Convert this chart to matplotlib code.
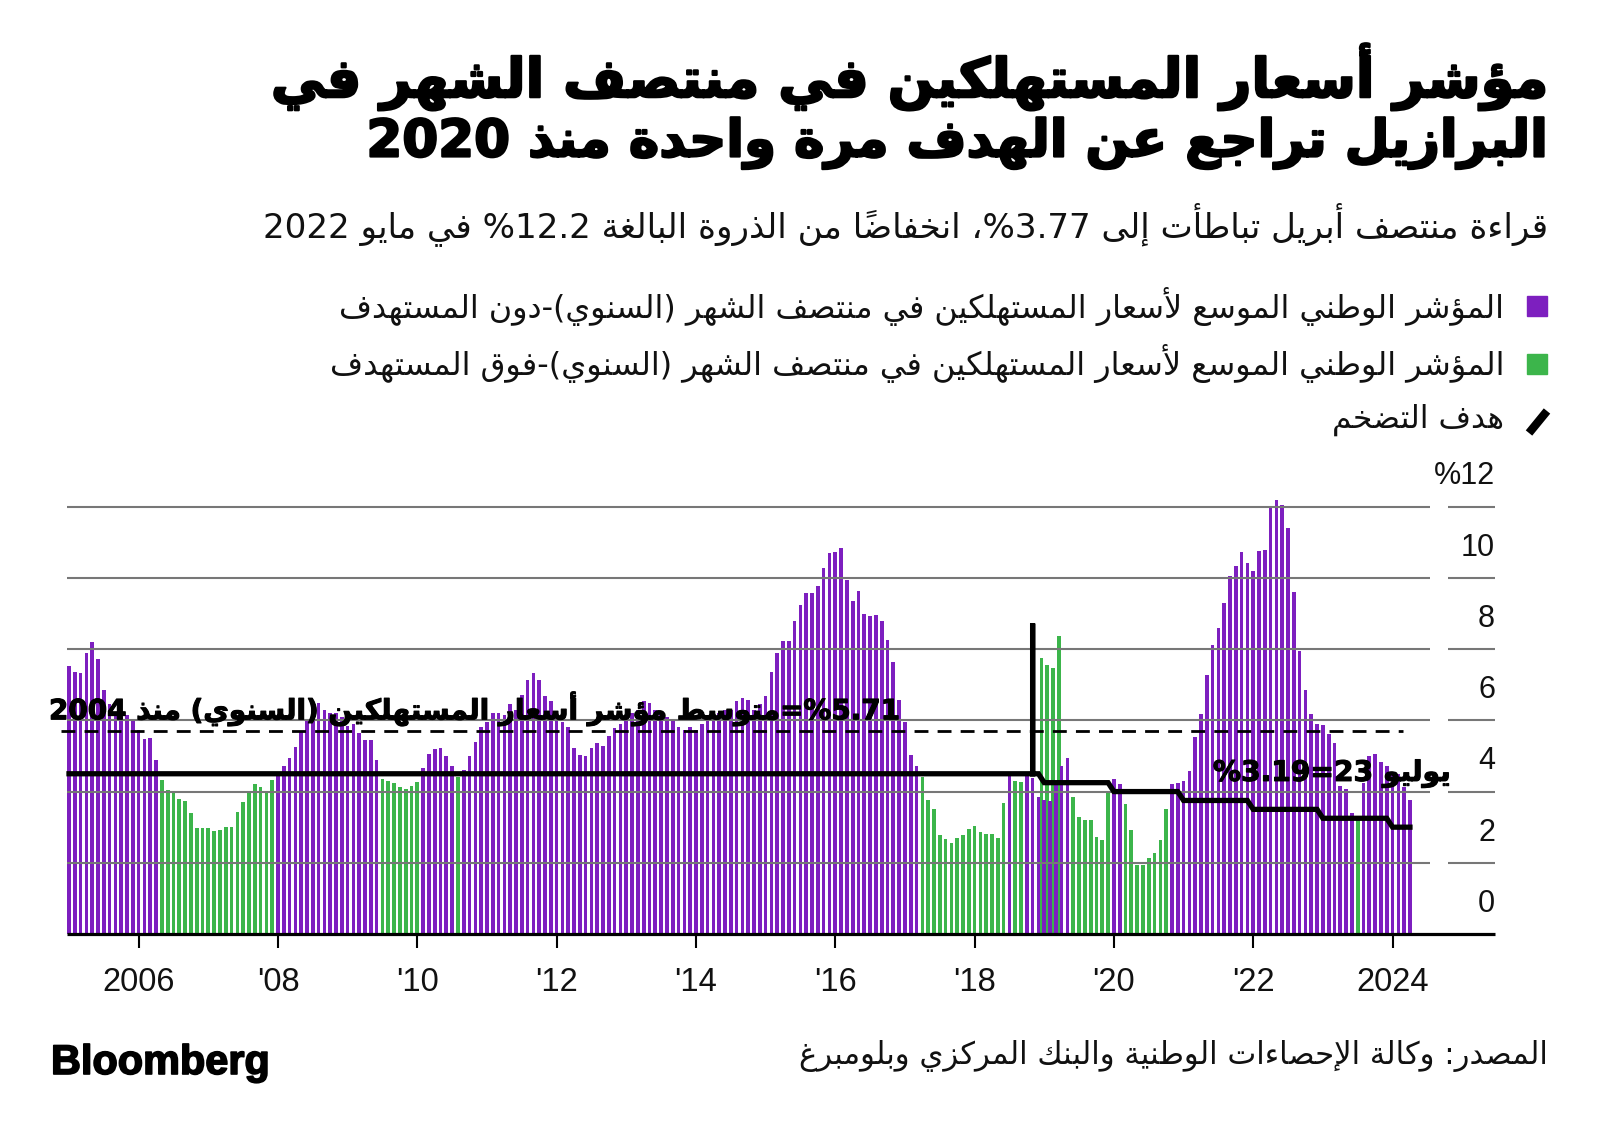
import re
import numpy as np
import pandas as pd
import matplotlib
matplotlib.use('Agg')
import matplotlib.pyplot as plt
import matplotlib.transforms as mtrans
import matplotlib.patheffects as pe
from matplotlib.patches import Rectangle
from matplotlib.lines import Line2D

# ---------------- data ----------------
months = pd.period_range('2005-01', '2024-04', freq='M')

# IPCA-15, 12-month change (%)
cpi_2005 = [7.53, 7.36, 7.34, 7.88, 8.20, 7.72, 6.85, 6.45, 6.20, 6.10, 6.15, 6.00]
cpi_2006 = [5.73, 5.47, 5.50, 4.89, 4.33, 4.04, 3.95, 3.79, 3.74, 3.39, 2.97, 2.97]
cpi_2007 = [2.97, 2.90, 2.92, 3.00, 3.00, 3.42, 3.70, 3.95, 4.20, 4.12, 3.95, 4.33]
cpi_2008 = [4.55, 4.72, 4.93, 5.25, 5.70, 6.00, 6.30, 6.50, 6.30, 6.20, 6.20, 6.10]
cpi_2009 = [5.85, 5.90, 5.65, 5.45, 5.45, 4.90, 4.35, 4.30, 4.25, 4.12, 4.06, 4.17]
cpi_2010 = [4.28, 4.65, 5.06, 5.20, 5.23, 5.00, 4.72, 4.42, 4.60, 5.00, 5.40, 5.82]
cpi_2011 = [5.96, 6.20, 6.20, 6.15, 6.46, 6.30, 6.71, 7.13, 7.34, 7.13, 6.67, 6.53]
cpi_2012 = [6.25, 5.96, 5.82, 5.23, 5.03, 5.00, 5.23, 5.36, 5.29, 5.56, 5.78, 5.90]
cpi_2013 = [6.00, 6.20, 6.30, 6.53, 6.48, 6.30, 6.20, 6.10, 6.00, 5.82, 5.73, 5.82]
cpi_2014 = [5.73, 5.90, 6.00, 6.10, 6.20, 6.30, 6.30, 6.53, 6.62, 6.57, 6.30, 6.46]
cpi_2015 = [6.69, 7.36, 7.90, 8.22, 8.24, 8.80, 9.25, 9.57, 9.57, 9.77, 10.28, 10.71]
cpi_2016 = [10.74, 10.84, 9.95, 9.34, 9.62, 8.98, 8.93, 8.95, 8.78, 8.27, 7.64, 6.58]
cpi_2017 = [5.94, 5.02, 4.73, 4.41, 3.77, 3.52, 2.78, 2.68, 2.56, 2.71, 2.77, 2.94]
cpi_2018 = [3.02, 2.86, 2.80, 2.80, 2.70, 3.68, 4.53, 4.30, 4.28, 4.53, 4.39, 3.86]
cpi_2019 = [3.77, 3.73, 4.18, 4.71, 4.93, 3.86, 3.28, 3.20, 3.20, 2.72, 2.64, 3.95]
cpi_2020 = [4.34, 4.21, 3.65, 2.92, 1.94, 1.94, 2.13, 2.28, 2.64, 3.52, 4.22, 4.23]
cpi_2021 = [4.30, 4.57, 5.52, 6.17, 7.27, 8.13, 8.59, 9.30, 10.05, 10.34, 10.73, 10.42]
cpi_2022 = [10.20, 10.76, 10.79, 12.03, 12.20, 12.04, 11.39, 9.60, 7.96, 6.85, 6.17, 5.90]
cpi_2023 = [5.87, 5.63, 5.36, 4.16, 4.07, 3.40, 3.19, 4.24, 5.00, 5.05, 4.84, 4.72]
cpi_2024 = [4.47, 4.49, 4.14, 3.77]

# inflation target by year
target_years = [2005, 2019, 2020, 2021, 2022, 2023, 2024]
target_levels = [4.5, 4.25, 4.0, 3.75, 3.5, 3.25, 3.0]

# glitches visible in the published chart (late 2018 / early 2019)
glitch_months = ['2018-10', '2018-11', '2018-12', '2019-01', '2019-02', '2019-03']
glitch_green = [np.nan, np.nan, 7.74, 7.56, 7.46, 8.37]
target_spike_month = '2018-11'
target_spike_value = 8.72

avg_since_2004 = 5.71

tick_years = [2006, 2008, 2010, 2012, 2014, 2016, 2018, 2020, 2022, 2024]
tick_labels = ['2006', "'08", "'10", "'12", "'14", "'16", "'18", "'20", "'22", '2024']
y_levels = [0, 2, 4, 6, 8, 10, 12]
y_labels = ['0', '2', '4', '6', '8', '10', '%12']

title_1 = 'مؤشر أسعار المستهلكين في منتصف الشهر في'
title_2 = 'البرازيل تراجع عن الهدف مرة واحدة منذ 2020'
subtitle = 'قراءة منتصف أبريل تباطأت إلى 3.77%، انخفاضاً من الذروة البالغة 12.2% في مايو 2022'
legend_1 = 'المؤشر الوطني الموسع لأسعار المستهلكين في منتصف الشهر (السنوي)-دون المستهدف'
legend_2 = 'المؤشر الوطني الموسع لأسعار المستهلكين في منتصف الشهر (السنوي)-فوق المستهدف'
legend_3 = 'هدف التضخم'
note_avg = '5.71%=متوسط مؤشر أسعار المستهلكين (السنوي) منذ 2004'
note_jul = 'يوليو 23=3.19%'
source = 'المصدر: وكالة الإحصاءات الوطنية والبنك المركزي وبلومبرغ'

PURPLE = '#7d1fbf'
GREEN = '#3cb54b'
GRID = '#777777'

# ---------------- arabic shaping (no complex text layout in matplotlib) ----------------
_FOUR = dict(zip('ئبتثجحخسشصضطظعغفقكلمنهي',
                 [0xFE89, 0xFE8F, 0xFE95, 0xFE99, 0xFE9D, 0xFEA1, 0xFEA5, 0xFEB1, 0xFEB5, 0xFEB9,
                  0xFEBD, 0xFEC1, 0xFEC5, 0xFEC9, 0xFECD, 0xFED1, 0xFED5, 0xFED9, 0xFEDD, 0xFEE1,
                  0xFEE5, 0xFEE9, 0xFEF1]))
_TWO = dict(zip('آأؤإاةدذرزوى',
                [0xFE81, 0xFE83, 0xFE85, 0xFE87, 0xFE8D, 0xFE93, 0xFEA9, 0xFEAB, 0xFEAD, 0xFEAF,
                 0xFEED, 0xFEEF]))
_LAMALEF = {'آ': 0xFEF5, 'أ': 0xFEF7, 'إ': 0xFEF9, 'ا': 0xFEFB}
_LTR = re.compile(r'[0-9A-Za-z]+(?:[.,:][0-9A-Za-z]+)*')
_MIRROR = {'(': ')', ')': '('}


def _mark(c):
    return '\u064B' <= c <= '\u0652'


def shape(s):
    n = len(s)
    out = []
    k = 0
    while k < n:
        c = s[k]
        if c in _FOUR or c in _TWO:
            p = k - 1
            while p >= 0 and _mark(s[p]):
                p -= 1
            jp = p >= 0 and s[p] in _FOUR
            q = k + 1
            while q < n and _mark(s[q]):
                q += 1
            nx = s[q] if q < n else None
            if c == 'ل' and nx in _LAMALEF:
                out.append(chr(_LAMALEF[nx] + (1 if jp else 0)))
                k = q + 1
                continue
            if c in _FOUR:
                jn = nx is not None and (nx in _FOUR or nx in _TWO)
                form = 3 if (jp and jn) else 1 if jp else 2 if jn else 0
                out.append(chr(_FOUR[c] + form))
            else:
                out.append(chr(_TWO[c] + (1 if jp else 0)))
        elif c == 'ء':
            out.append('\uFE80')
        else:
            out.append(c)
        k += 1
    return ''.join(out)


def ar(s):
    s = shape(s)
    toks = []
    k = 0
    while k < len(s):
        m = _LTR.match(s, k)
        if m:
            toks.append(m.group())
            k = m.end()
        elif _mark(s[k]) and toks:
            toks[-1] += s[k]
            k += 1
        else:
            toks.append(_MIRROR.get(s[k], s[k]))
            k += 1
    return ''.join(reversed(toks))


# ---------------- series ----------------
cpi = np.array(cpi_2005 + cpi_2006 + cpi_2007 + cpi_2008 + cpi_2009 + cpi_2010 + cpi_2011 +
               cpi_2012 + cpi_2013 + cpi_2014 + cpi_2015 + cpi_2016 + cpi_2017 + cpi_2018 +
               cpi_2019 + cpi_2020 + cpi_2021 + cpi_2022 + cpi_2023 + cpi_2024)
x = np.arange(len(months))
years = np.array([p.year for p in months])
target = np.zeros(len(months))
for yr, lv in zip(target_years, target_levels):
    target[years >= yr] = lv

glitch_idx = [months.get_loc(pd.Period(m, 'M')) for m in glitch_months]
above = cpi >= target
above[glitch_idx] = True
colors = np.where(above, PURPLE, GREEN)

# target line with the spike that shows in the source chart
si = months.get_loc(pd.Period(target_spike_month, 'M'))
tx = np.concatenate([x[:si + 1], [si, si], x[si:]])
ty = np.concatenate([target[:si + 1], [target_spike_value, target[si]], target[si:]])

# ---------------- figure ----------------
W, H = 1600, 1141
fig = plt.figure(figsize=(W / 100, H / 100), dpi=100)
fig.patch.set_facecolor('white')


def fx(px):
    return px / W


def fy(py):
    return 1 - py / H


ax = fig.add_axes([fx(67), fy(934), fx(1495) - fx(67), fy(506.7) - fy(934)])
px_per_month = 5.805
ax.set_xlim((67 - 69) / px_per_month, (1495 - 69) / px_per_month)
ax.set_ylim(0, 12)
for s in ax.spines.values():
    s.set_visible(False)
ax.set_yticks([])

ax.bar(x, cpi, width=0.63, color=colors, zorder=2, linewidth=0, clip_on=False)
gx = np.array(glitch_idx, dtype=float)
ax.bar(gx + 0.5, glitch_green, width=0.63, color=GREEN, zorder=1.9, linewidth=0)

xr = (1495 - 69) / px_per_month
for v in y_levels[1:]:
    ax.plot([ax.get_xlim()[0], (1430 - 69) / px_per_month], [v, v], color=GRID, lw=1.5,
            zorder=3, solid_capstyle='butt', clip_on=False)
    ax.plot([(1448 - 69) / px_per_month, xr], [v, v], color=GRID, lw=1.5, zorder=3,
            solid_capstyle='butt', clip_on=False)
ax.plot([ax.get_xlim()[0], xr], [0, 0], color='black', lw=2.3, zorder=5, clip_on=False,
        solid_capstyle='butt')

ax.plot([x[0] - 1.4, x[-1] - 1.2], [avg_since_2004] * 2, color='black', lw=2.0,
        ls=(0, (5, 3.3)), zorder=4, clip_on=False)
ax.plot(tx, ty, color='black', lw=3.8, zorder=6, clip_on=False, solid_joinstyle='miter')

ytr = mtrans.blended_transform_factory(ax.transAxes, ax.transData)
for v, lab in zip(y_levels, y_labels):
    ax.text(1.0, v + 0.85, lab, transform=ytr, ha='right', va='center', fontsize=22,
            family='Liberation Sans', color='#111111')

tick_pos = [months.get_loc(pd.Period(f'{y}-01', 'M')) for y in tick_years]
ax.set_xticks(tick_pos)
ax.set_xticklabels(tick_labels, family='Liberation Sans', fontsize=23.5, color='#111111')
ax.tick_params(axis='x', length=10, width=1.5, color='black', pad=14)

fig.canvas.draw()
rend = fig.canvas.get_renderer()


def fit(t, width):
    for _ in range(2):
        w = t.get_window_extent(rend).width
        t.set_fontsize(t.get_fontsize() * width / w)


def ftext(xp, yp, s, width=None, **kw):
    t = fig.text(fx(xp), fy(yp), s, **kw)
    if width:
        fit(t, width)
    return t


AR = 'DejaVu Sans'
heavy = [pe.withStroke(linewidth=1.6, foreground='black')]
ftext(1548, 77, ar(title_1), 1280, ha='right', va='center', fontsize=36,
      fontweight='bold', family=AR, path_effects=heavy)
ftext(1548, 143, ar(title_2), 1180, ha='right', va='center', fontsize=36,
      fontweight='bold', family=AR, path_effects=heavy)
ftext(1548, 224, ar(subtitle), 1285, ha='right', va='center', fontsize=20, family=AR,
      color='#111111')
ftext(1504, 306, ar(legend_1), 1166, ha='right', va='center', fontsize=18, family=AR,
      color='#111111')
ftext(1504, 364, ar(legend_2), 1174, ha='right', va='center', fontsize=18, family=AR,
      color='#111111')
ftext(1504, 420, ar(legend_3), 172, ha='right', va='center', fontsize=18, family=AR,
      color='#111111')
for yc, col in [(306, PURPLE), (364, GREEN)]:
    fig.patches.append(Rectangle((fx(1527), fy(yc + 10)), fx(20), 20 / H, color=col,
                                 transform=fig.transFigure, figure=fig))
fig.lines.append(Line2D([fx(1529), fx(1547)], [fy(433), fy(411)], color='black', lw=6,
                        transform=fig.transFigure, figure=fig, solid_capstyle='butt'))

ftext(1548, 1056, ar(source), 749, ha='right', va='center', fontsize=20, family=AR,
      color='#111111')
ftext(51, 1063, 'Bloomberg', 219, ha='left', va='center', fontsize=30, fontweight='bold',
      family='Liberation Sans', path_effects=[pe.withStroke(linewidth=1.2, foreground='black')])

# chart notes
bold_note = [pe.withStroke(linewidth=0.8, foreground='black')]
t = ax.text((49 - 69) / px_per_month, 6.03, ar(note_avg), ha='left', va='baseline',
            fontsize=22, fontweight='bold', family=AR, zorder=7, path_effects=bold_note)
fit(t, 852)
t = ax.text((1451 - 69) / px_per_month, 4.3, ar(note_jul), ha='right', va='baseline',
            fontsize=22, fontweight='bold', family=AR, zorder=7, path_effects=bold_note)
fit(t, 238)

fig.savefig('out.png', dpi=100)
